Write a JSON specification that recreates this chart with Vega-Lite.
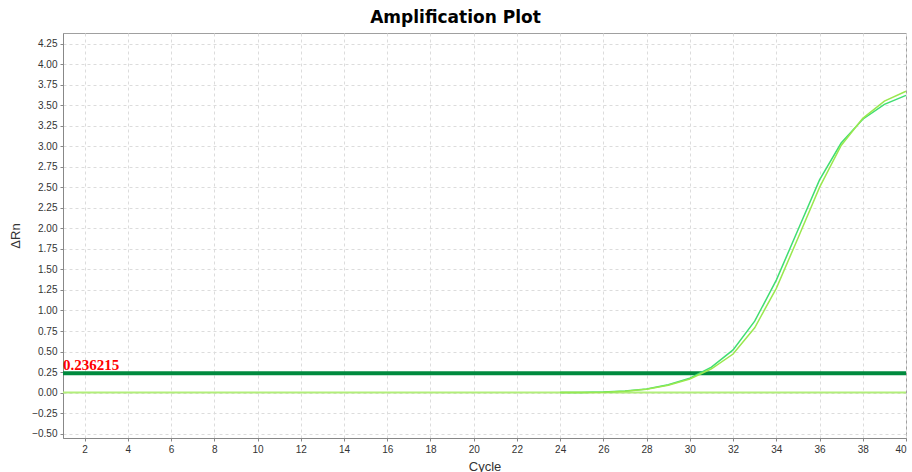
{
  "$schema": "https://vega.github.io/schema/vega-lite/v6.json",
  "autosize": {"type": "none"},
  "padding": {"left": 63, "top": 33, "right": 6, "bottom": 34},
  "width": 843,
  "height": 405,
  "background": "white",
  "title": {
    "text": "Amplification Plot",
    "font": "DejaVu Sans",
    "fontSize": 17,
    "fontWeight": "bold",
    "color": "#000000",
    "anchor": "middle",
    "dx": -29,
    "offset": 6
  },
  "config": {
    "view": {"stroke": "#a0a0a0", "strokeWidth": 1},
    "axis": {
      "labelFont": "Liberation Sans",
      "labelFontSize": 10,
      "labelColor": "#333333",
      "titleFont": "Liberation Sans",
      "titleFontSize": 13,
      "titleFontWeight": "normal",
      "titleColor": "#333333",
      "domainColor": "#888888",
      "tickColor": "#888888",
      "tickSize": 3,
      "gridColor": "#dcdcdc",
      "gridDash": [3, 3],
      "gridWidth": 1
    }
  },
  "datasets": {
    "curves": [
      {"cycle": 24, "rn": 0.0, "well": "A"},
      {"cycle": 25, "rn": 0.002, "well": "A"},
      {"cycle": 26, "rn": 0.006, "well": "A"},
      {"cycle": 27, "rn": 0.018, "well": "A"},
      {"cycle": 28, "rn": 0.045, "well": "A"},
      {"cycle": 29, "rn": 0.095, "well": "A"},
      {"cycle": 30, "rn": 0.175, "well": "A"},
      {"cycle": 31, "rn": 0.31, "well": "A"},
      {"cycle": 32, "rn": 0.52, "well": "A"},
      {"cycle": 33, "rn": 0.87, "well": "A"},
      {"cycle": 34, "rn": 1.37, "well": "A"},
      {"cycle": 35, "rn": 1.98, "well": "A"},
      {"cycle": 36, "rn": 2.59, "well": "A"},
      {"cycle": 37, "rn": 3.04, "well": "A"},
      {"cycle": 38, "rn": 3.33, "well": "A"},
      {"cycle": 39, "rn": 3.51, "well": "A"},
      {"cycle": 40, "rn": 3.62, "well": "A"},
      {"cycle": 24, "rn": 0.0, "well": "B"},
      {"cycle": 25, "rn": 0.002, "well": "B"},
      {"cycle": 26, "rn": 0.005, "well": "B"},
      {"cycle": 27, "rn": 0.016, "well": "B"},
      {"cycle": 28, "rn": 0.042, "well": "B"},
      {"cycle": 29, "rn": 0.09, "well": "B"},
      {"cycle": 30, "rn": 0.165, "well": "B"},
      {"cycle": 31, "rn": 0.29, "well": "B"},
      {"cycle": 32, "rn": 0.47, "well": "B"},
      {"cycle": 33, "rn": 0.79, "well": "B"},
      {"cycle": 34, "rn": 1.27, "well": "B"},
      {"cycle": 35, "rn": 1.88, "well": "B"},
      {"cycle": 36, "rn": 2.5, "well": "B"},
      {"cycle": 37, "rn": 3.01, "well": "B"},
      {"cycle": 38, "rn": 3.34, "well": "B"},
      {"cycle": 39, "rn": 3.55, "well": "B"},
      {"cycle": 40, "rn": 3.67, "well": "B"}
    ],
    "baseline": [{"rn": 0}],
    "threshold": [{"cycle": 1, "rn": 0.236215, "label": "0.236215"}]
  },
  "encoding": {
    "x": {
      "field": "cycle",
      "type": "quantitative",
      "scale": {"domain": [1, 40], "nice": false, "zero": false},
      "axis": {
        "title": "Cycle",
        "values": [2,4,6,8,10,12,14,16,18,20,22,24,26,28,30,32,34,36,38,40],
        "labelPadding": 3,
        "titlePadding": 6
      }
    },
    "y": {
      "field": "rn",
      "type": "quantitative",
      "scale": {"domain": [-0.553, 4.38], "nice": false, "zero": false},
      "axis": {
        "title": "ΔRn",
        "values": [-0.5,-0.25,0,0.25,0.5,0.75,1,1.25,1.5,1.75,2,2.25,2.5,2.75,3,3.25,3.5,3.75,4,4.25],
        "format": ".2f",
        "labelPadding": 3,
        "titlePadding": 9
      }
    }
  },
  "layer": [
    {
      "data": {"name": "baseline"},
      "mark": {"type": "rule", "color": "#b2ee7a", "strokeWidth": 2},
      "encoding": {"x": null}
    },
    {
      "data": {"name": "threshold"},
      "mark": {"type": "rule", "color": "#008a3e", "strokeWidth": 4},
      "encoding": {"x": null}
    },
    {
      "data": {"name": "curves"},
      "mark": {"type": "line", "strokeWidth": 1.5, "interpolate": "linear"},
      "encoding": {
        "color": {
          "field": "well",
          "type": "nominal",
          "scale": {"domain": ["A", "B"], "range": ["#40de72", "#9ae84e"]},
          "legend": null
        }
      }
    },
    {
      "data": {"name": "threshold"},
      "mark": {
        "type": "text",
        "align": "left",
        "baseline": "alphabetic",
        "dy": -3,
        "dx": 0,
        "font": "Liberation Serif",
        "fontSize": 15,
        "fontWeight": "bold",
        "color": "#ff0000"
      },
      "encoding": {"text": {"field": "label"}}
    }
  ]
}
